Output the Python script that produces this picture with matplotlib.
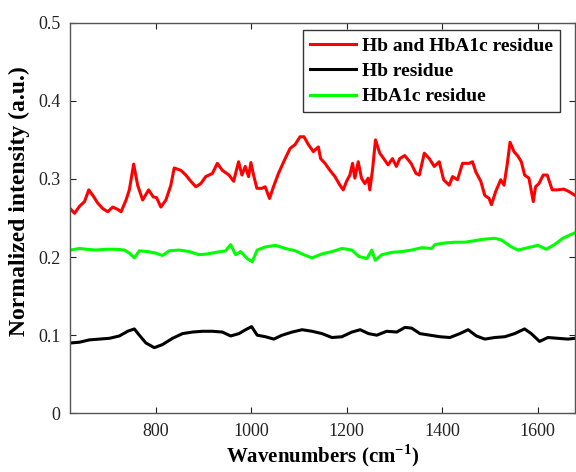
import matplotlib
matplotlib.use("Agg")
import matplotlib.pyplot as plt

# Hb and HbA1c residue (red)
red_x = [620.4, 629.5, 640, 650.4, 659.4, 667.8, 678.2, 688.7, 699.1, 709.5, 720, 727, 737.4, 744.3,
         753.4, 761.7, 772.2, 784.7, 794.4, 801.4, 810.4, 820.9, 831.3, 838.3, 852.2, 862.6, 873.1,
         883.5, 894, 904.4, 918.3, 928.7, 939.2, 953.1, 962.8, 973.2, 980.2, 987.2, 994.1, 999,
         1004.6, 1011.5, 1022, 1029, 1038, 1046.3, 1056.7, 1070.7, 1081.1, 1091.5, 1102, 1110.3,
         1119.4, 1129.8, 1140.3, 1145.1, 1154.2, 1164.6, 1175.1, 1185.5, 1192.4, 1199.4, 1206.4,
         1212, 1216.8, 1223.8, 1230.7, 1237.7, 1244.6, 1248.1, 1253.7, 1260, 1269, 1277.3, 1286.4,
         1295.5, 1303.8, 1310.8, 1321.2, 1334.5, 1344.9, 1351.9, 1362.3, 1372.8, 1383.2, 1393.6,
         1402.7, 1414.5, 1421.5, 1431.9, 1442.3, 1456.3, 1463.2, 1470.2, 1480.6, 1489, 1498,
         1502.9, 1511.9, 1522.4, 1529.3, 1536.3, 1541.9, 1550.2, 1558.6, 1565.5, 1572.5, 1581.5,
         1590.6, 1595.4, 1602.4, 1611.4, 1619.8, 1630.2, 1640.7, 1654.6, 1665, 1678]
red_y = [0.262, 0.256, 0.265, 0.271, 0.286, 0.279, 0.269, 0.262, 0.258, 0.264, 0.261, 0.258, 0.273, 0.286,
         0.319, 0.292, 0.273, 0.286, 0.277, 0.276, 0.264, 0.273, 0.292, 0.314, 0.311, 0.305, 0.297,
         0.290, 0.294, 0.303, 0.307, 0.320, 0.311, 0.305, 0.297, 0.322, 0.305, 0.316, 0.303, 0.321,
         0.305, 0.288, 0.288, 0.290, 0.275, 0.290, 0.307, 0.326, 0.339, 0.344, 0.354, 0.354,
         0.344, 0.335, 0.341, 0.326, 0.320, 0.311, 0.303, 0.292, 0.286, 0.297, 0.305,
         0.320, 0.301, 0.322, 0.301, 0.294, 0.301, 0.286, 0.311, 0.350, 0.333, 0.326, 0.318,
         0.326, 0.316, 0.326, 0.330, 0.320, 0.307, 0.305, 0.333, 0.326, 0.316, 0.322,
         0.299, 0.292, 0.303, 0.299, 0.320, 0.320, 0.322, 0.309, 0.297, 0.279, 0.275,
         0.267, 0.284, 0.299, 0.292, 0.320, 0.347, 0.335, 0.329, 0.322, 0.305, 0.301,
         0.271, 0.290, 0.294, 0.305, 0.305, 0.286, 0.286, 0.287, 0.284, 0.279]

# Hb residue (black)
blk_x = [620.4, 640, 660.8, 681.7, 702.6, 723.4, 740.8, 754.8, 765.2, 779.1, 796.5, 813.9, 834.8, 855.7,
         876.5, 897.4, 918.3, 939.2, 956.6, 974, 987.9, 1000.4, 1012.2, 1029.6, 1047, 1064.4, 1085.3,
         1106.2, 1127.1, 1147.9, 1168.8, 1189.7, 1210.6, 1228, 1245.4, 1262.8, 1283.6, 1304.5, 1321.9,
         1335.8, 1353.2, 1374.1, 1395, 1415.9, 1436.7, 1454.1, 1471.5, 1488.9, 1509.8, 1530.7, 1551.5,
         1572.4, 1586.4, 1603.7, 1621.1, 1642, 1662.9, 1678]
blk_y = [0.090, 0.091, 0.094, 0.095, 0.096, 0.099, 0.105, 0.108, 0.100, 0.090, 0.084, 0.088, 0.096, 0.102,
         0.104, 0.105, 0.105, 0.104, 0.099, 0.102, 0.107, 0.111, 0.100, 0.098, 0.095, 0.100, 0.104,
         0.107, 0.105, 0.102, 0.097, 0.098, 0.104, 0.107, 0.102, 0.100, 0.105, 0.104, 0.110,
         0.109, 0.102, 0.100, 0.098, 0.097, 0.102, 0.107, 0.099, 0.095, 0.097, 0.098, 0.102,
         0.108, 0.102, 0.092, 0.097, 0.096, 0.095, 0.096]

# HbA1c residue (green)
grn_x = [620.4, 640, 653.9, 674.7, 695.6, 716.5, 733.9, 744.3, 754.8, 765.2, 782.6, 800, 813.9, 827.8,
         848.7, 869.6, 890.5, 907.9, 925.3, 946.1, 956.6, 967, 977.4, 991.4, 1001.8, 1012.2, 1029.6,
         1050.5, 1071.4, 1092.3, 1109.7, 1127.1, 1147.9, 1168.8, 1189.7, 1210.6, 1224.5, 1241.9,
         1252.3, 1259.3, 1273.2, 1294, 1315, 1335.8, 1356.7, 1377.6, 1384.5, 1405.4, 1426.3, 1447.2,
         1468, 1488.9, 1509.8, 1523.7, 1544.6, 1558.5, 1579.4, 1600.3, 1617.7, 1635.1, 1652.5,
         1669.9, 1678]
grn_y = [0.209, 0.211, 0.210, 0.209, 0.210, 0.210, 0.209, 0.205, 0.199, 0.208, 0.207, 0.205, 0.202, 0.208,
         0.209, 0.207, 0.203, 0.204, 0.206, 0.208, 0.216, 0.203, 0.207, 0.198, 0.194, 0.209, 0.213,
         0.215, 0.211, 0.208, 0.203, 0.199, 0.204, 0.207, 0.211, 0.209, 0.201, 0.198,
         0.209, 0.196, 0.203, 0.206, 0.207, 0.209, 0.212, 0.211, 0.216, 0.218, 0.219, 0.219,
         0.221, 0.223, 0.224, 0.222, 0.213, 0.209, 0.212, 0.215, 0.210, 0.216, 0.224,
         0.229, 0.231]

x_ticks = [800, 1000, 1200, 1400, 1600]
y_ticks = [0, 0.1, 0.2, 0.3, 0.4, 0.5]
y_tick_labels = ["0", "0.1", "0.2", "0.3", "0.4", "0.5"]

plt.rcParams['font.family'] = ['Liberation Serif', 'DejaVu Serif']
plt.rcParams['mathtext.fontset'] = 'custom'
plt.rcParams['mathtext.rm'] = 'Liberation Serif'
plt.rcParams['mathtext.bf'] = 'Liberation Serif:bold'

fig = plt.figure(figsize=(5.76, 4.72), dpi=100)
ax = fig.add_axes([70 / 576, 1 - 413.3 / 472, 505 / 576, 390.6 / 472])

ax.plot(red_x, red_y, color='#ff0000', lw=2.2, label='Hb and HbA1c residue')
ax.plot(blk_x, blk_y, color='#000000', lw=2.2, label='Hb residue')
ax.plot(grn_x, grn_y, color='#00ff00', lw=2.2, label='HbA1c residue')

ax.set_xlim(620, 1678)
ax.set_ylim(0, 0.5)
ax.set_xticks(x_ticks)
ax.set_yticks(y_ticks)
ax.set_yticklabels(y_tick_labels)
ax.tick_params(direction='in', length=4, width=0.8, top=True, right=True,
               labelsize=13, colors='#222222', pad=7)
for s in ax.spines.values():
    s.set_color('#555555')
    s.set_linewidth(1.0)

ax.set_xlabel('Wavenumbers (cm$^{\\mathbf{-1}}$)', fontsize=15, fontweight='bold')
ax.xaxis.set_label_coords(0.5, -0.074)
ax.set_ylabel('Normalized intensity (a.u.)', fontsize=17, fontweight='bold')
ax.yaxis.set_label_coords(-0.08, 0.543)

leg = ax.legend(loc='upper right', bbox_to_anchor=(0.970, 0.981), borderaxespad=0,
                prop={'weight': 'bold', 'size': 14}, fancybox=False, frameon=True,
                handlelength=2.4, handletextpad=0.3, borderpad=0.35, labelspacing=0.4)
leg.get_frame().set_edgecolor('black')
leg.get_frame().set_linewidth(1.0)

fig.savefig('out.png', dpi=100)
